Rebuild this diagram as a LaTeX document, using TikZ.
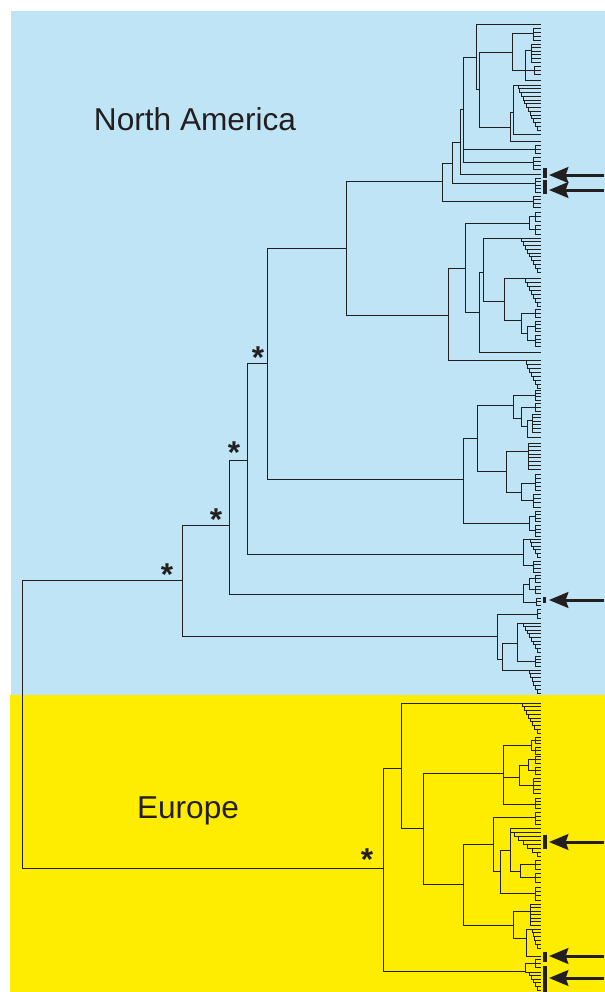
\documentclass[tikz,border=0pt]{standalone}
\usepackage{fontspec}
\setmainfont{Liberation Sans}
\usetikzlibrary{arrows.meta}
\definecolor{nablue}{RGB}{190,228,246}
\definecolor{euyellow}{RGB}{255,237,0}
\definecolor{treeline}{RGB}{35,31,32}
\tikzset{
  branch/.style={draw=treeline, line width=0.55pt},
  pointer/.style={draw=treeline, line width=1.7pt, -{Stealth[length=11pt,width=9pt,inset=1.5pt]}},
  markbar/.style={fill=treeline},
  region/.style={font=\fontsize{18}{20}\selectfont, text=treeline, anchor=base},
  star/.style={font=\fontsize{18}{20}\selectfont\bfseries, text=treeline, anchor=base, inner sep=0pt},
}
\def\tipx{541}
% vertical / horizontal branch pieces (pixel units)
\newcommand\vb[3]{\draw[branch] (#1,#2) -- (#1,#3);}
\newcommand\hb[3]{\draw[branch] (#1,#3) -- (#2,#3);}
% tips hanging off one vertical
\newcommand\rake[3]{%
  \pgfmathtruncatemacro\rkN{max(1,round((#3-#2)/3.8))}%
  \draw[branch] (#1,#2) -- (#1,#3);%
  \foreach \k in {0,...,\rkN}{%
    \pgfmathsetmacro\rkY{#2+\k*(#3-#2)/\rkN}%
    \draw[branch] (#1,\rkY) -- (\tipx,\rkY);}}
% ladderized comb, parent joins at the top tip
\newcommand\ladder[3]{%
  \pgfmathtruncatemacro\ldN{max(2,round((#3-#2)/3.8))}%
  \pgfmathtruncatemacro\ldM{\ldN-1}%
  \draw[branch] (#1,#2) -- (\tipx,#2);%
  \foreach \k in {0,...,\ldM}{%
    \pgfmathsetmacro\ldX{#1+\k*(\tipx-4-#1)/\ldM}%
    \pgfmathsetmacro\ldA{#2+\k*(#3-#2)/\ldN}%
    \pgfmathsetmacro\ldB{#2+(\k+1)*(#3-#2)/\ldN}%
    \draw[branch] (\ldX,\ldA) -- (\ldX,\ldB) -- (\tipx,\ldB);}}
% two small tip groups, parent joins in the middle
\newcommand\twin[3]{%
  \pgfmathsetmacro\twM{(#2+#3)/2}%
  \pgfmathsetmacro\twC{\twM-2}\pgfmathsetmacro\twD{\twM+2}%
  \pgfmathsetmacro\twA{(#2+\twC)/2}\pgfmathsetmacro\twB{(\twD+#3)/2}%
  \draw[branch] (535,\twA) -- (#1,\twA) -- (#1,\twB) -- (535,\twB);%
  \rake{535}{#2}{\twC}\rake{535}{\twD}{#3}}
\begin{document}
\begin{tikzpicture}[x=0.02cm, y=-0.02cm]
\useasboundingbox (0,0) rectangle (605,992);
\fill[nablue] (11,11) rectangle (605,695);
\fill[euyellow] (10,695) rectangle (605,992);

% backbone
\vb{22}{580}{868}
\hb{22}{182}{580}
\hb{22}{383}{868}
\vb{182}{525}{636} \hb{182}{229}{525} \hb{182}{497}{636}
\vb{229}{460}{594} \hb{229}{247}{460} \hb{229}{523}{594}
\vb{247}{363}{554} \hb{247}{267}{363} \hb{247}{523}{554}
\vb{267}{248}{479} \hb{267}{346}{248} \hb{267}{463}{479}
\vb{346}{181}{315} \hb{346}{442}{181} \hb{346}{448}{315}

% top clade
\vb{442}{163}{201} \hb{442}{452}{163}
\hb{442}{533}{201} \rake{533}{196}{207}
\vb{452}{142}{183} \hb{452}{460}{142}
\hb{452}{535}{183} \rake{535}{178}{192}
\vb{460}{109}{174} \hb{460}{463}{109} \hb{460}{\tipx}{174}
\vb{463}{57}{162} \hb{463}{476}{57}
\hb{463}{535}{149} \rake{535}{145}{153}
\hb{463}{533}{162} \rake{533}{157}{169}
\vb{476}{24}{89} \hb{476}{\tipx}{24} \hb{476}{479}{89}
\vb{479}{52}{127} \hb{479}{512}{52} \hb{479}{510}{127}
\vb{512}{33}{70}
\hb{512}{533}{33} \rake{533}{28}{40}
\hb{512}{525}{70}
\vb{525}{50}{80}
\hb{525}{531}{50} \rake{531}{44}{62}
\hb{525}{534}{70} \rake{534}{66}{74}
\hb{525}{\tipx}{80}
\vb{510}{112}{141} \hb{510}{513}{112} \hb{510}{\tipx}{141}
\vb{513}{85}{134}
\hb{513}{518}{85} \ladder{518}{85}{130}
\hb{513}{\tipx}{134}

% clade below
\vb{448}{268}{360} \hb{448}{465}{268}
\hb{448}{526}{360} \ladder{526}{360}{388}
\vb{465}{223}{312}
\hb{465}{529}{223} \twin{529}{212}{234}
\hb{465}{479}{312}
\vb{479}{272}{352} \hb{479}{483}{272} \hb{479}{\tipx}{352}
\vb{483}{238}{301}
\hb{483}{521}{238} \ladder{521}{238}{272}
\hb{483}{504}{301}
\vb{504}{278}{320}
\hb{504}{525}{278} \ladder{525}{278}{306}
\hb{504}{521}{320}
\vb{521}{313}{333}
\hb{521}{535}{313} \rake{535}{309}{317}
\hb{521}{527}{333} \twin{527}{321}{346}

\vb{463}{438}{523} \hb{463}{477}{438}
\hb{463}{529}{523} \twin{529}{511}{536}
\vb{477}{405}{471} \hb{477}{513}{405} \hb{477}{506}{471}
\vb{513}{395}{418}
\hb{513}{535}{395} \rake{535}{390}{400}
\hb{513}{521}{418}
\vb{521}{407}{426}
\hb{521}{535}{407} \rake{535}{403}{411}
\hb{521}{527}{426}
\vb{527}{420}{437}
\hb{527}{532}{420} \rake{532}{414}{432}
\hb{527}{\tipx}{437}
\vb{506}{451}{492}
\hb{506}{528}{451} \rake{528}{443}{469}
\hb{506}{521}{492}
\vb{521}{483}{500}
\hb{521}{535}{483} \rake{535}{474}{490}
\hb{521}{533}{500} \rake{533}{494}{507}

\vb{523}{539}{565}
\hb{523}{530}{539} \ladder{530}{539}{557}
\hb{523}{533}{565} \rake{533}{561}{572}

\vb{523}{584}{602}
\hb{523}{529}{584} \twin{529}{575}{593}
\hb{523}{536}{602} \rake{536}{598}{605}

\vb{497}{614}{659}
\hb{497}{537}{614} \rake{537}{609}{618}
\hb{497}{502}{659}
\vb{502}{643}{670}
\hb{502}{517}{643}
\vb{517}{623}{661}
\hb{517}{523}{623} \ladder{523}{623}{652}
\hb{517}{535}{661} \rake{535}{656}{666}
\hb{502}{529}{670} \ladder{529}{670}{693}

% Europe
\vb{383}{768}{971} \hb{383}{401}{768} \hb{383}{525}{971}
\vb{401}{703}{828}
\hb{401}{522}{703} \ladder{522}{703}{733}
\hb{401}{423}{828}
\vb{423}{773}{884} \hb{423}{503}{773} \hb{423}{463}{884}
\vb{503}{745}{804}
\hb{503}{531}{745} \twin{531}{737}{754}
\hb{503}{519}{777}
\vb{519}{765}{785}
\hb{519}{528}{765} \twin{528}{756}{774}
\hb{519}{533}{785} \rake{533}{778}{793}
\hb{503}{535}{804} \rake{535}{798}{808}
\vb{463}{844}{925} \hb{463}{493}{844} \hb{463}{513}{925}
\vb{493}{817}{871}
\hb{493}{535}{817} \rake{535}{812}{824}
\hb{493}{500}{871}
\vb{500}{850}{893} \hb{500}{510}{850}
\hb{500}{535}{893} \rake{535}{887}{900}
\vb{510}{828}{871} \hb{510}{\tipx}{828}
\hb{510}{514}{832} \ladder{514}{832}{856}
\hb{510}{520}{871} \twin{520}{860}{882}
\vb{513}{911}{938}
\hb{513}{530}{911} \rake{530}{904}{925}
\hb{513}{526}{938}
\vb{526}{929}{956}
\hb{526}{532}{929} \ladder{532}{929}{948}
\hb{526}{\tipx}{956}
\vb{525}{963}{972}
\hb{525}{535}{963} \rake{535}{959}{967}
\hb{525}{529}{972} \ladder{529}{972}{990}

% marked tips
\fill[markbar] (543,168) rectangle (547,178);
\fill[markbar] (543,180) rectangle (547,194);
\fill[markbar] (543,597) rectangle (546,603);
\fill[markbar] (543,835) rectangle (547,849);
\fill[markbar] (543,952) rectangle (547,962);
\fill[markbar] (543,966) rectangle (547,992);
\foreach \n/\yy in {a/175,b/190,c/600,d/842,e/956,f/978}{
  \coordinate (tail\n) at (604,\yy);
  \coordinate (head\n) at (549,\yy);
  \draw[pointer] (tail\n) -- (head\n);
}

% labels
\node[region] (na) at (195,130) {North America};
\node[region] (eu) at (188,818) {Europe};
\node[star] (s1) at (167,585) {*};
\node[star] (s2) at (216,530) {*};
\node[star] (s3) at (234,463) {*};
\node[star] (s4) at (258,368) {*};
\node[star] (s5) at (367,870) {*};
\end{tikzpicture}
\end{document}
